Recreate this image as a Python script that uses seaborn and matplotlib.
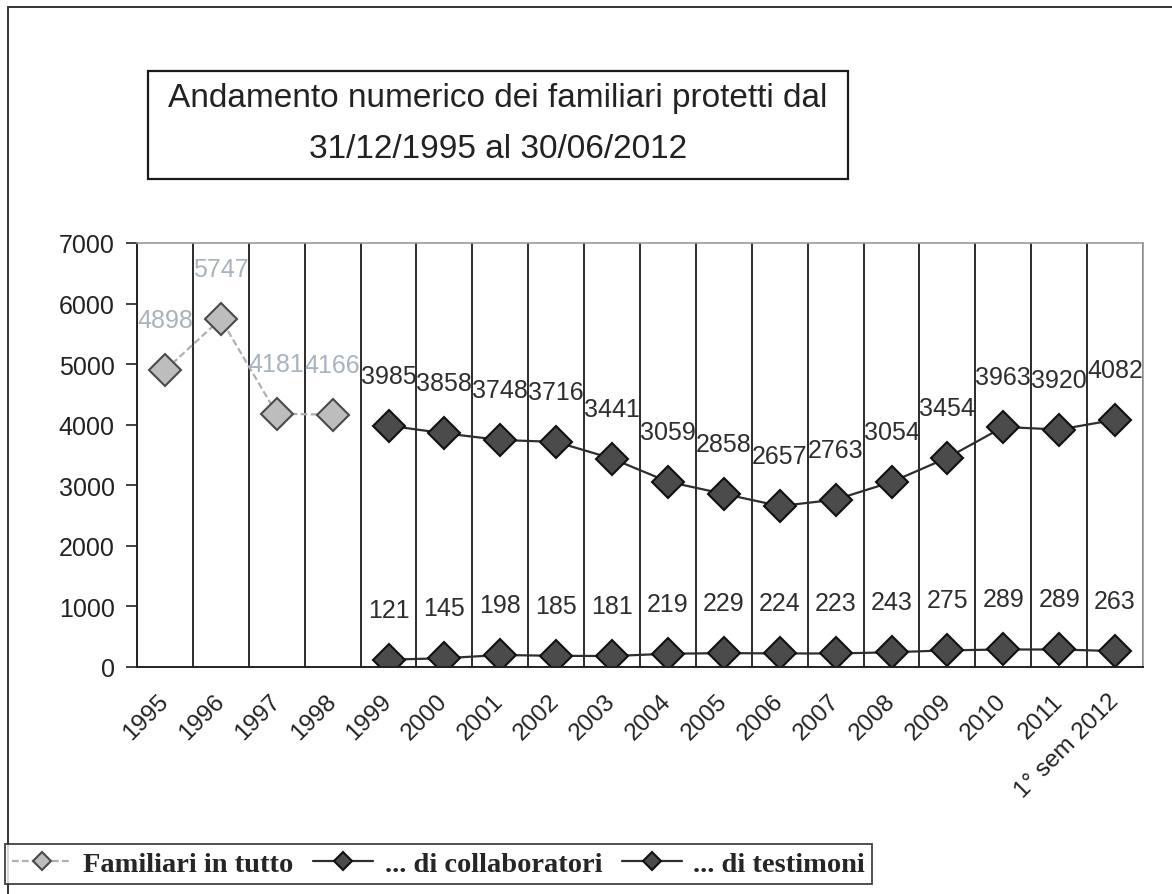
import numpy as np
import pandas as pd
import seaborn as sns
import matplotlib.pyplot as plt
from matplotlib.patches import Rectangle
from matplotlib.lines import Line2D

years = ['1995', '1996', '1997', '1998', '1999', '2000', '2001', '2002', '2003',
         '2004', '2005', '2006', '2007', '2008', '2009', '2010', '2011', '1° sem 2012']
nan = np.nan
familiari = [4898, 5747, 4181, 4166] + [nan] * 14
collaboratori = [nan] * 4 + [3985, 3858, 3748, 3716, 3441, 3059, 2858, 2657, 2763,
                             3054, 3454, 3963, 3920, 4082]
testimoni = [nan] * 4 + [121, 145, 198, 185, 181, 219, 229, 224, 223,
                         243, 275, 289, 289, 263]

sns.set_style("white")
plt.rcParams['font.family'] = ['Liberation Sans', 'DejaVu Sans']

df = pd.DataFrame({'pos': np.arange(len(years)), 'fam': familiari,
                   'col': collaboratori, 'tes': testimoni})

fig = plt.figure(figsize=(11.72, 8.95), dpi=100)
ax = fig.add_axes([137 / 1172, 1 - 668 / 895, 1006 / 1172, 424 / 895])

series = [
    ('fam', 'Familiari in tutto', '#b0b0b0', '#bdbdbd', '#4a4a4a', '#a9b3c0', (0, (3, 1.5))),
    ('col', '... di collaboratori', '#2e2e2e', '#4b4b4b', '#111111', '#2e2e2e', '-'),
    ('tes', '... di testimoni', '#2e2e2e', '#4b4b4b', '#111111', '#2e2e2e', '-'),
]
for key, name, lc, fc, ec, tc, ls in series:
    sns.lineplot(data=df, x='pos', y=key, ax=ax, color=lc, lw=1.6, linestyle=ls,
                 marker='D', markersize=16, markerfacecolor=fc,
                 markeredgecolor=ec, markeredgewidth=1.5, label=name)
    for x, v in zip(df['pos'], df[key]):
        if not np.isnan(v):
            ax.annotate(f'{int(v)}', (x, v), xytext=(0, 36), textcoords='offset points',
                        ha='center', va='center', fontsize=18, color=tc)

ax.set_xlim(-0.5, len(years) - 0.5)
ax.set_ylim(0, 7000)
ax.set_yticks(range(0, 7001, 1000))
ax.set_xticks(df['pos'])
ax.set_xticklabels(years, rotation=45, ha='right', va='center', rotation_mode='anchor')
ax.set_xticks(np.arange(-0.5, len(years)), minor=True)
ax.grid(which='minor', axis='x', color='#1a1a1a', lw=1.3)
ax.tick_params(axis='x', which='major', direction='in', length=4, width=1.2,
               labelsize=17.5, pad=22, colors='#222')
ax.tick_params(axis='x', which='minor', direction='out', length=8, width=1.2, color='#222')
ax.tick_params(axis='y', direction='out', length=8, width=1.2, labelsize=18,
               pad=8, colors='#222', left=True)
ax.set_xlabel('')
ax.set_ylabel('')
for s in ['left', 'bottom']:
    ax.spines[s].set_color('#222')
    ax.spines[s].set_linewidth(1.4)
for s in ['top', 'right']:
    ax.spines[s].set_color('#999')
    ax.spines[s].set_linewidth(1.2)

# title box
fig.add_artist(Rectangle((148 / 1172, 1 - 180 / 895), 700 / 1172, 108 / 895,
                         transform=fig.transFigure, fill=False, ec='#1a1a1a', lw=1.6))
fig.text(498 / 1172, 1 - 98 / 895, 'Andamento numerico dei familiari protetti dal',
         ha='center', va='center', fontsize=24, color='#222')
fig.text(498 / 1172, 1 - 150 / 895, '31/12/1995 al 30/06/2012',
         ha='center', va='center', fontsize=24, color='#222')

# outer frame
fig.add_artist(Line2D([8 / 1172, 8 / 1172], [0, 1 - 8 / 895], transform=fig.transFigure,
                      color='#333', lw=1.4))
fig.add_artist(Line2D([8 / 1172, 1], [1 - 8 / 895, 1 - 8 / 895], transform=fig.transFigure,
                      color='#333', lw=1.4))

handles, labels = ax.get_legend_handles_labels()
ax.get_legend().remove()
leg = fig.legend(handles, labels, loc='lower left', bbox_to_anchor=(5 / 1172, 10 / 895),
                 borderaxespad=0, ncol=3, frameon=True, fancybox=False, edgecolor='#222',
                 handlelength=2.1, handletextpad=0.4, columnspacing=0.7,
                 borderpad=0.25, markerscale=0.6,
                 prop={'family': 'Liberation Serif', 'weight': 'bold', 'size': 20.5})
leg.get_frame().set_linewidth(1.4)

fig.savefig('out.png', dpi=100, facecolor='white')
